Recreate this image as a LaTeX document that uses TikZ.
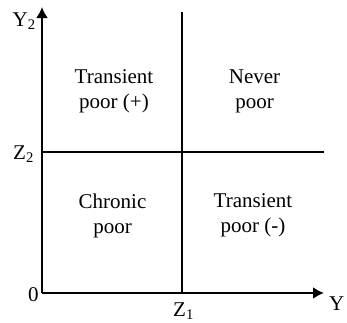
\documentclass[tikz,border=0pt]{standalone}
\usepackage{fontspec}
\setmainfont{Liberation Serif}
\usetikzlibrary{arrows.meta}
\newcommand\mysub[1]{\textsubscript{#1}}
\begin{document}
\begin{tikzpicture}[x=1pt,y=-1pt,
  font=\fontsize{21}{25}\selectfont,
  axis/.style={line width=2.4pt,-{Latex[length=11pt,width=12pt]}},
  divider/.style={line width=1.6pt},
  quad/.style={align=center,inner sep=0pt},
  lab/.style={inner sep=0pt,anchor=base west}]
\useasboundingbox (0,0) rectangle (347,322);
\coordinate (O) at (42,293);
\coordinate (ytop) at (42,7);
\coordinate (xend) at (324,293);
\coordinate (vtop) at (182,12);
\coordinate (vbot) at (182,293);
\coordinate (hl) at (42,152);
\coordinate (hr) at (324,152);
\draw[divider] (vtop) -- (vbot);
\draw[divider] (hl) -- (hr);
\draw[axis] (O) -- (ytop);
\draw[axis] (O) -- (xend);
\node[quad] (tp) at (114,91.5) {Transient\\poor (+)};
\node[quad] (np) at (254.5,91.5) {Never\\poor};
\node[quad] (cp) at (112.5,215.5) {Chronic\\poor};
\node[quad] (tm) at (253,215.5) {Transient\\poor (-)};
\node[lab] (y2) at (12.5,26.7) {Y\mysub{2}};
\node[lab] (z2) at (13,159) {Z\mysub{2}};
\node[lab] (zero) at (28,301.5) {0};
\node[lab] (z1) at (173,316.5) {Z\mysub{1}};
\node[lab] (y) at (329,310) {Y};
\end{tikzpicture}
\end{document}
